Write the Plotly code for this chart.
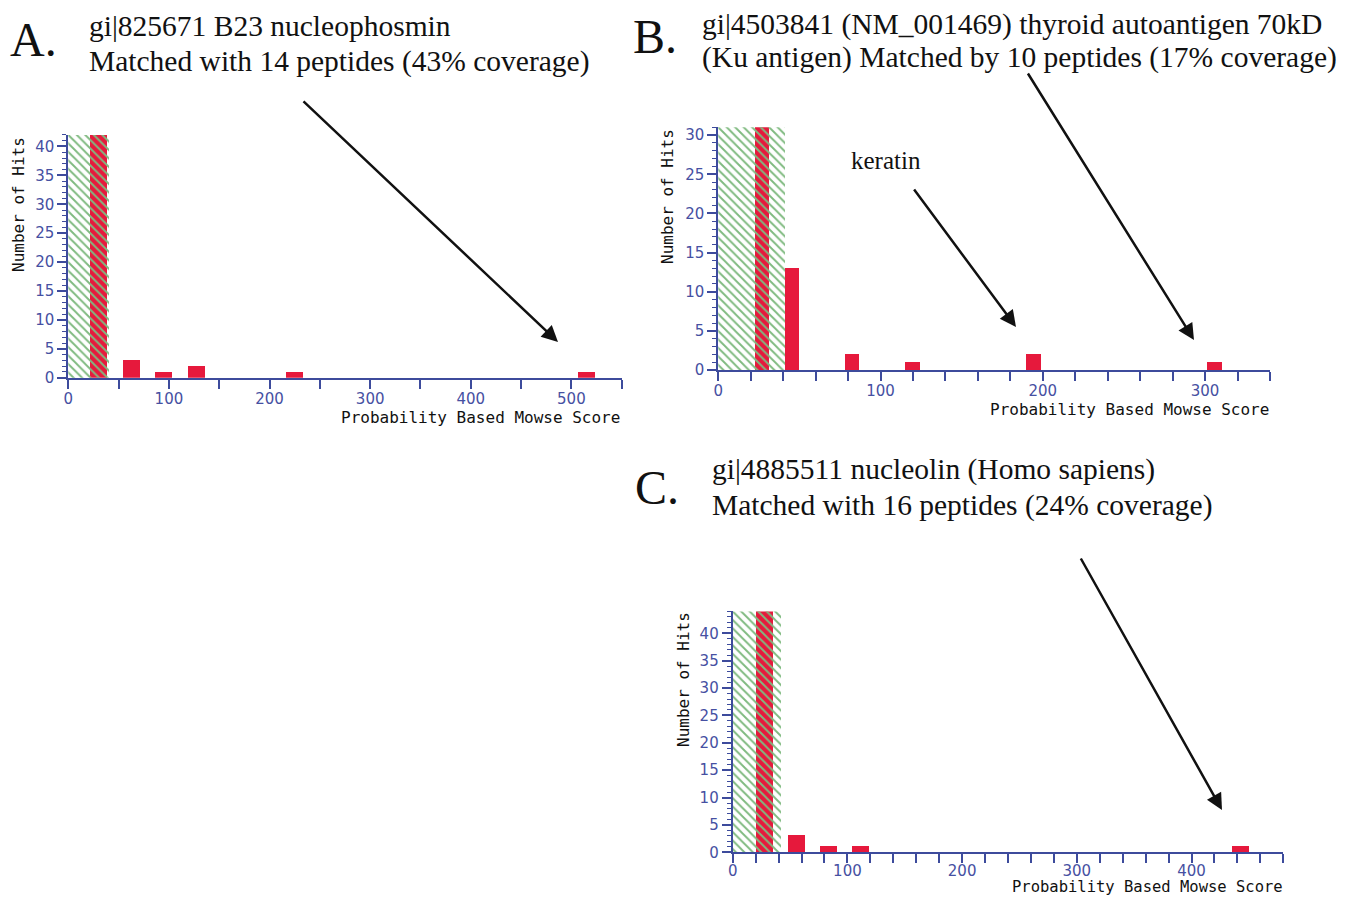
import plotly.graph_objects as go

# ---------------- data ----------------
a_scores = [30, 63, 95, 128, 225, 515]
a_hits = [42, 3, 1, 2, 1, 1]
a_bin_width = 17
a_threshold = 41
a_xmax, a_ymax = 550, 42

b_scores = [27, 45.5, 82.5, 120, 194.5, 306]
b_hits = [31, 13, 2, 1, 2, 1]
b_bin_width = 9
b_threshold = 41
b_xmax, b_ymax = 340, 31

c_scores = [27.5, 55.3, 83, 111.3, 442.4]
c_hits = [44, 3, 1, 1, 1]
c_bin_width = 15
c_threshold = 42
c_xmax, c_ymax = 480, 44

titles_a = ["gi|825671 B23 nucleophosmin", "Matched with 14 peptides (43% coverage)"]
titles_b = ["gi|4503841 (NM_001469) thyroid autoantigen 70kD",
            "(Ku antigen) Matched by 10 peptides (17% coverage)"]
titles_c = ["gi|4885511 nucleolin (Homo sapiens)", "Matched with 16 peptides (24% coverage)"]

# ---------------- style ----------------
RED = "#e6193c"
GREEN = "#7fba80"
AXIS = "#3d4b9c"
TICKFONT = dict(family="DejaVu Sans", size=15, color="#4650a2")
MONO_FAMILY = "DejaVu Sans Mono"
SERIF = "Liberation Serif"

OFF = 8  # page body margin
W, H = 1363 - 2 * OFF, 904 - 2 * OFF


def px(x):
    return (x - OFF) / W


def py(y):
    return 1 - (y - OFF) / H


fig = go.Figure()

panels = [
    (a_scores, a_hits, a_bin_width, a_threshold, a_xmax, a_ymax, "", (68.3, 621.7), (377.7, 134.9), 100, 50, -3),
    (b_scores, b_hits, b_bin_width, b_threshold, b_xmax, b_ymax, "2", (718.3, 1270), (370, 127.3), 100, 20, -3),
    (c_scores, c_hits, c_bin_width, c_threshold, c_xmax, c_ymax, "3", (732.7, 1283.3), (852.3, 611.4), 100, 20, -5),
]

layout_axes = {}
for scores, hits, bw, thr, xmax, ymax, sfx, xd, yd, xmaj, xmin, standoff in panels:
    xa = "x" + sfx
    ya = "y" + sfx
    fig.add_trace(go.Bar(
        x=scores, y=hits, width=[bw] * len(scores),
        marker=dict(color=RED, line=dict(width=0)),
        xaxis=xa, yaxis=ya, showlegend=False,
    ))
    fig.add_trace(go.Bar(
        x=[thr / 2], y=[ymax], width=[thr],
        marker=dict(color="rgba(0,0,0,0)", line=dict(width=0),
                    pattern=dict(shape="\\", fgcolor=GREEN, bgcolor="rgba(0,0,0,0)",
                                 size=6, solidity=0.32, fillmode="replace")),
        xaxis=xa, yaxis=ya, showlegend=False,
    ))
    layout_axes["xaxis" + sfx] = dict(
        domain=[px(xd[0]), px(xd[1])], range=[0, xmax], anchor=ya,
        showgrid=False, zeroline=False, showline=True, linecolor=AXIS, linewidth=2,
        ticks="outside", ticklen=9, tickwidth=2, tickcolor=AXIS,
        tick0=0, dtick=xmaj, tickfont=TICKFONT, automargin=False, ticklabelstandoff=standoff,
        minor=dict(ticks="outside", dtick=xmin, tick0=0, ticklen=9, tickwidth=2, tickcolor=AXIS),
        fixedrange=True,
    )
    layout_axes["yaxis" + sfx] = dict(
        domain=[py(yd[0]), py(yd[1])], range=[0, ymax], anchor=xa,
        showgrid=False, zeroline=False, showline=True, linecolor=AXIS, linewidth=2,
        ticks="outside", ticklen=9, tickwidth=2, tickcolor=AXIS,
        tick0=0, dtick=5, tickfont=TICKFONT, automargin=False,
        minor=dict(ticks="outside", dtick=1, tick0=0, ticklen=4, tickwidth=1, tickcolor=AXIS),
        fixedrange=True,
    )

annotations = []


def text(t, x, y, size, xanchor="left", family=SERIF, color="#111111", angle=0):
    annotations.append(dict(
        text=t, x=px(x), y=py(y), xref="paper", yref="paper",
        xanchor=xanchor, yanchor="middle", showarrow=False, textangle=angle,
        borderpad=0,
        font=dict(family=family, size=size, color=color),
    ))


# panel letters & titles
text("A.", 9, 40, 48)
text(titles_a[0], 88, 26, 29.5)
text(titles_a[1], 88, 61, 29.5)
text("B.", 632, 36, 48)
text(titles_b[0], 701, 24, 29.5)
text(titles_b[1], 701, 57, 29.5)
text("C.", 634, 487, 48)
text(titles_c[0], 711, 469, 29.5)
text(titles_c[1], 711, 505, 29.5)
text("keratin", 850, 161, 25)

# axis titles
for (xl, yl, xr, yr, sz) in [(18, 205, 621, 417, 16), (667, 197, 1270, 410, 16), (683, 680, 1284, 887, 15.5)]:
    text("Number of Hits", xl, yl, 16, xanchor="center", family=MONO_FAMILY, angle=-90)
    text("Probability Based Mowse Score", xr, yr, sz, xanchor="right", family=MONO_FAMILY)

# arrows (head, tail) in page pixels
for (hx, hy), (tx, ty) in [((558, 342), (302, 100)), ((1016, 327), (913, 188)),
                           ((1194, 340), (1027, 72)), ((1222, 810), (1080, 557))]:
    annotations.append(dict(
        x=px(hx), y=py(hy), xref="paper", yref="paper",
        ax=tx - hx, ay=ty - hy, axref="pixel", ayref="pixel",
        showarrow=True, arrowhead=2, arrowsize=1.3, arrowwidth=2.5, arrowcolor="#111111",
        text="",
    ))

fig.update_layout(
    width=W, height=H, autosize=False,
    margin=dict(l=0, r=0, t=0, b=0),
    paper_bgcolor="white", plot_bgcolor="white",
    barmode="overlay", bargap=0,
    annotations=annotations,
    **layout_axes,
)

fig.write_html("out.html")
